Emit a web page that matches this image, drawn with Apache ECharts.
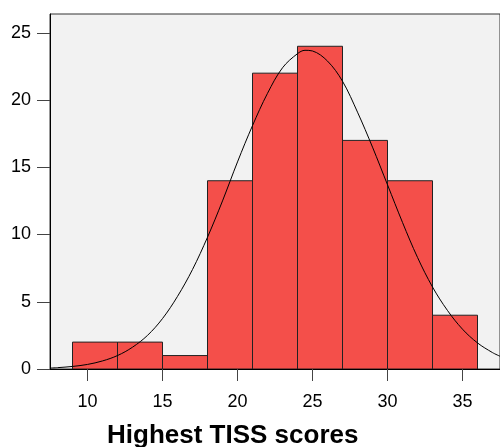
<!DOCTYPE html>
<html>
<head>
<meta charset="utf-8">
<script src="https://cdn.jsdelivr.net/npm/echarts@6/dist/echarts.min.js"></script>
<style>
  html, body { margin: 0; padding: 0; background: #fff; }
  #chart { width: 500px; height: 447px; }
</style>
</head>
<body>
<div id="chart"></div>
<script>
// histogram bins (start of each bin, width 3) and counts
const binStarts = [9, 12, 15, 18, 21, 24, 27, 30, 33]
const binWidth = 3
const counts = [2, 2, 1, 14, 22, 24, 17, 14, 4]

// fitted curve
const curveX = [7.5, 8, 9, 10, 11, 12, 13, 14, 15, 16, 17, 18, 19, 20, 21, 22, 23, 24, 24.5, 25, 26, 27, 28, 29, 30, 31, 32, 33, 34, 35, 36, 37, 37.5]
const curveY = [0.07, 0.1, 0.19, 0.34, 0.6, 1.0, 1.62, 2.5, 3.75, 5.4, 7.4, 9.8, 12.5, 15.4, 18.1, 20.5, 22.4, 23.45, 23.7, 23.65, 22.9, 21.4, 19.1, 16.5, 13.7, 10.9, 8.3, 6.1, 4.35, 2.96, 1.94, 1.22, 0.95]

const xTicks = [10, 15, 20, 25, 30, 35]
const yTicks = [0, 5, 10, 15, 20, 25]

const chart = echarts.init(document.getElementById('chart'))

const barData = binStarts.map((s, i) => [s, counts[i], s + binWidth])
const lineData = curveX.map((x, i) => [x, curveY[i]])

chart.setOption({
  animation: false,
  title: {
    text: 'Highest TISS scores',
    left: 102,
    top: 418,
    textStyle: {
      fontFamily: 'Liberation Sans, Arial, sans-serif',
      fontSize: 26,
      fontWeight: 'bold',
      color: '#000'
    }
  },
  grid: {
    left: 50,
    top: 14,
    right: -2,
    bottom: 78,
    show: true,
    backgroundColor: '#f2f2f2',
    borderColor: '#333',
    borderWidth: 1
  },
  xAxis: {
    type: 'value',
    min: 7.5,
    max: 37.5,
    splitLine: { show: false },
    axisLine: { show: true, lineStyle: { color: '#000', width: 1 } },
    axisTick: {
      show: true,
      customValues: xTicks,
      length: 12,
      lineStyle: { color: '#444' }
    },
    axisLabel: {
      customValues: xTicks,
      margin: 24,
      fontSize: 18,
      fontFamily: 'Liberation Sans, Arial, sans-serif',
      color: '#000'
    }
  },
  yAxis: {
    type: 'value',
    min: 0,
    max: 26.4,
    splitLine: { show: false },
    axisLine: { show: true, lineStyle: { color: '#000', width: 1 } },
    axisTick: {
      show: true,
      customValues: yTicks,
      length: 13,
      lineStyle: { color: '#444' }
    },
    axisLabel: {
      customValues: yTicks,
      margin: 19,
      fontSize: 18,
      fontFamily: 'Liberation Sans, Arial, sans-serif',
      color: '#000'
    }
  },
  series: [
    {
      type: 'custom',
      clip: true,
      renderItem: function (params, api) {
        const p0 = api.coord([api.value(0), api.value(1)])
        const p1 = api.coord([api.value(2), 0])
        return {
          type: 'rect',
          shape: { x: p0[0], y: p0[1], width: p1[0] - p0[0], height: p1[1] - p0[1] },
          style: { fill: '#f44f4a', stroke: '#222', lineWidth: 1 }
        }
      },
      encode: { x: [0, 2], y: 1 },
      data: barData,
      z: 2
    },
    {
      type: 'line',
      data: lineData,
      smooth: 0.35,
      symbol: 'none',
      clip: true,
      lineStyle: { color: '#000', width: 1 },
      z: 3
    }
  ]
})
</script>
</body>
</html>
